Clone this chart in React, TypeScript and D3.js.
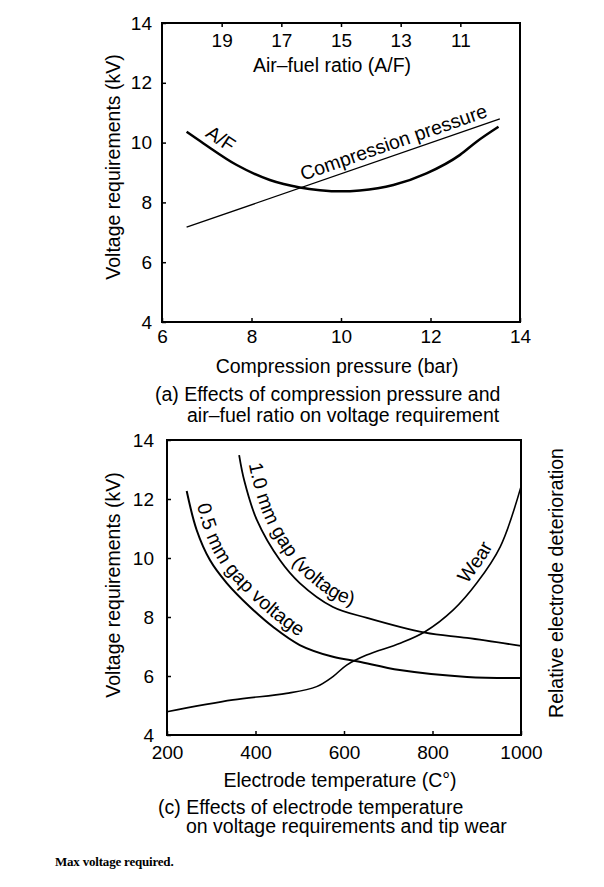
import React, { useEffect, useRef } from "react";
import * as d3 from "d3";

const FONT = "'Liberation Sans', Arial, Helvetica, sans-serif";

// (a) compression pressure / air-fuel ratio
const pressureTicks = [6, 8, 10, 12, 14];
const voltageTicks = [4, 6, 8, 10, 12, 14];
const afTicks = [19, 17, 15, 13, 11];
const pressureLineX = [6.55, 13.55];
const pressureLineV = [7.17, 10.79];
const afCurveX = [6.55, 6.92, 7.67, 8.41, 9.08, 9.53, 10.0, 10.42, 11.17, 11.91, 12.66, 13.03, 13.52];
const afCurveV = [10.36, 9.98, 9.25, 8.75, 8.5, 8.41, 8.37, 8.4, 8.58, 8.97, 9.59, 10.03, 10.53];

// (c) electrode temperature
const tempTicks = [200, 400, 600, 800, 1000];
const gap10T = [363, 375, 403, 455, 500, 575, 652, 783, 878, 1000];
const gap10V = [13.49, 12.6, 11.29, 9.93, 9.15, 8.34, 7.97, 7.47, 7.29, 7.02];
const gap05T = [244.5, 267, 297, 335, 387.6, 440, 500, 575, 632, 726, 878, 1000];
const gap05V = [12.27, 10.95, 9.93, 9.15, 8.34, 7.66, 7.05, 6.65, 6.49, 6.2, 5.97, 5.93];
const wearT = [200, 349, 470, 538, 575, 606, 651, 727, 783, 847, 900, 953, 1000];
const wearV = [4.79, 5.19, 5.41, 5.64, 5.98, 6.37, 6.71, 7.11, 7.5, 8.24, 9.15, 10.38, 12.42];

const zip = (xs: number[], ys: number[]) => xs.map((x, i) => [x, ys[i]] as [number, number]);

// walk along a path until it reaches a given x (px)
function lengthAtX(node: SVGPathElement, px: number) {
  let lo = 0;
  let hi = node.getTotalLength();
  for (let i = 0; i < 40; i++) {
    const mid = (lo + hi) / 2;
    if (node.getPointAtLength(mid).x < px) lo = mid;
    else hi = mid;
  }
  return lo;
}

// parallel copy of a path, shifted to the "up" side of its direction
function offsetPoints(node: SVGPathElement, d: number) {
  const L = node.getTotalLength();
  const out: [number, number][] = [];
  for (let l = 0; l <= L; l += 2) {
    const p = node.getPointAtLength(l);
    const a = node.getPointAtLength(Math.max(0, l - 1.5));
    const b = node.getPointAtLength(Math.min(L, l + 1.5));
    const len = Math.hypot(b.x - a.x, b.y - a.y) || 1;
    const tx = (b.x - a.x) / len;
    const ty = (b.y - a.y) / len;
    out.push([p.x + ty * d, p.y - tx * d]);
  }
  return out;
}

export default function App() {
  const svgRef = useRef<SVGSVGElement | null>(null);

  useEffect(() => {
    if (!svgRef.current) return;
    const svg = d3.select(svgRef.current);
    svg.selectAll("*").remove();

    const txt = (x: number, y: number, s: string, size = 19.5, anchor = "start", rot = 0) =>
      svg
        .append("text")
        .attr("transform", `translate(${x},${y}) rotate(${rot})`)
        .attr("text-anchor", anchor)
        .attr("font-family", FONT)
        .attr("font-size", size)
        .attr("fill", "#000")
        .text(s);

    const styleAxis = (g: any) => {
      g.select(".domain").remove();
      g.selectAll("line").attr("stroke", "#000").attr("stroke-width", 1.5);
      g.selectAll("text").attr("font-family", FONT).attr("font-size", 19).attr("fill", "#000");
    };

    const defs = svg.append("defs");

    const curveLabel = (
      id: string,
      pts: [number, number][],
      line: d3.Line<[number, number]>,
      width: number,
      label: string,
      startPx: number,
      gap: number
    ) => {
      const p = svg
        .append("path")
        .attr("d", line(pts))
        .attr("fill", "none")
        .attr("stroke", "#000")
        .attr("stroke-width", width);
      const guide = defs
        .append("path")
        .attr("id", id)
        .attr("d", d3.line()(offsetPoints(p.node() as SVGPathElement, gap)));
      const off = lengthAtX(guide.node() as SVGPathElement, startPx);
      svg
        .append("text")
        .attr("font-family", FONT)
        .attr("font-size", 19.5)
        .attr("fill", "#000")
        .append("textPath")
        .attr("href", `#${id}`)
        .attr("startOffset", off)
        .text(label);
    };

    // ---------- panel (a) ----------
    const xa = d3.scaleLinear().domain([6, 14]).range([162, 520]);
    const ya = d3.scaleLinear().domain([4, 14]).range([322, 23]);
    const af = d3.scaleLinear().domain([21, 9]).range([162, 520]);

    svg
      .append("g")
      .attr("transform", `translate(0,${ya(4)})`)
      .call(d3.axisBottom(xa).tickValues(pressureTicks).tickSizeInner(-4).tickSizeOuter(0).tickPadding(8))
      .call(styleAxis);
    svg
      .append("g")
      .attr("transform", `translate(${xa(6)},0)`)
      .call(d3.axisLeft(ya).tickValues(voltageTicks).tickSizeInner(-4).tickSizeOuter(0).tickPadding(10))
      .call(styleAxis);
    svg
      .append("g")
      .attr("transform", `translate(0,${ya(14)})`)
      .call(d3.axisBottom(af).tickValues(afTicks).tickSizeInner(4).tickSizeOuter(0).tickPadding(7))
      .call(styleAxis);

    svg
      .append("rect")
      .attr("x", xa(6))
      .attr("y", ya(14))
      .attr("width", xa(14) - xa(6))
      .attr("height", ya(4) - ya(14))
      .attr("fill", "none")
      .attr("stroke", "#000")
      .attr("stroke-width", 2);

    const lineA = d3
      .line<[number, number]>()
      .x((d) => xa(d[0]))
      .y((d) => ya(d[1]))
      .curve(d3.curveMonotoneX);

    curveLabel("pressure", zip(pressureLineX, pressureLineV), lineA, 1.3, "Compression pressure", xa(9.15), 6);
    curveLabel("afcurve", zip(afCurveX, afCurveV), lineA, 2.5, "A/F", xa(6.95), 7);

    txt(332, 72, "Air–fuel ratio (A/F)", 19.5, "middle");
    txt(337, 373, "Compression pressure (bar)", 19.5, "middle");
    txt(120, 167, "Voltage requirements (kV)", 19.5, "middle", -90);
    txt(155, 401, "(a) Effects of compression pressure and");
    txt(187, 422, "air–fuel ratio on voltage requirement");

    // ---------- panel (c) ----------
    const xc = d3.scaleLinear().domain([200, 1000]).range([167, 521]);
    const yc = d3.scaleLinear().domain([4, 14]).range([735, 440]);

    svg
      .append("g")
      .attr("transform", `translate(0,${yc(4)})`)
      .call(
        d3
          .axisBottom(xc)
          .tickValues(tempTicks)
          .tickFormat(d3.format("d"))
          .tickSizeInner(-4)
          .tickSizeOuter(0)
          .tickPadding(11)
      )
      .call(styleAxis);
    svg
      .append("g")
      .attr("transform", `translate(${xc(200)},0)`)
      .call(d3.axisLeft(yc).tickValues(voltageTicks).tickSizeInner(-4).tickSizeOuter(0).tickPadding(13))
      .call(styleAxis);

    svg
      .append("rect")
      .attr("x", xc(200))
      .attr("y", yc(14))
      .attr("width", xc(1000) - xc(200))
      .attr("height", yc(4) - yc(14))
      .attr("fill", "none")
      .attr("stroke", "#000")
      .attr("stroke-width", 2);

    const lineC = d3
      .line<[number, number]>()
      .x((d) => xc(d[0]))
      .y((d) => yc(d[1]))
      .curve(d3.curveCatmullRom.alpha(0.5));

    curveLabel("gap10", zip(gap10T, gap10V), lineC, 1.8, "1.0 mm gap (voltage)", xc(385), 8);
    curveLabel("gap05", zip(gap05T, gap05V), lineC, 2, "0.5 mm gap voltage", xc(268), 7);
    curveLabel("wear", zip(wearT, wearV), lineC, 1.6, "Wear", xc(878), 7);

    txt(340, 787, "Electrode temperature (C°)", 19.5, "middle");
    txt(120, 585, "Voltage requirements (kV)", 19.5, "middle", -90);
    txt(563, 583, "Relative electrode deterioration", 19.5, "middle", -90);
    txt(158, 814, "(c) Effects of electrode temperature");
    txt(186, 833, "on voltage requirements and tip wear");

    svg
      .append("text")
      .attr("x", 55)
      .attr("y", 866)
      .attr("font-family", "'Liberation Serif', 'Times New Roman', serif")
      .attr("font-weight", "bold")
      .attr("font-size", 13)
      .attr("letter-spacing", -0.2)
      .attr("fill", "#000")
      .text("Max voltage required.");
  }, []);

  return (
    <svg
      ref={svgRef}
      width={604}
      height={887}
      style={{ position: "absolute", left: 0, top: 0, background: "#fff" }}
    />
  );
}
